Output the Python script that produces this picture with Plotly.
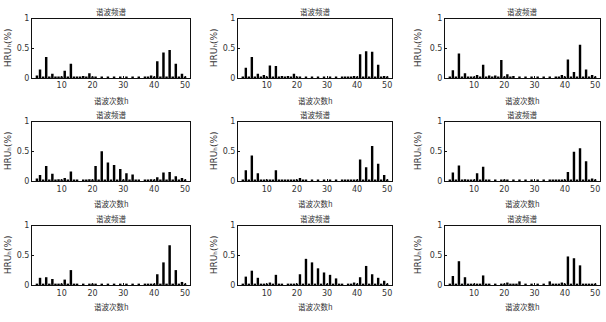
import plotly.graph_objects as go

harmonics = list(range(1, 51))
x_ticks = [10, 20, 30, 40, 50]
y_ticks = [0, 0.5, 1]
y_tick_text = ["0", "0.5", "1"]
title_text = "谐波频谱"
x_label = "谐波次数h"
y_label = "HRUₕ(%)"

p1 = [0, 0.04, 0.14, 0.02, 0.35, 0.01, 0.07, 0.01, 0.01, 0.01,
      0.12, 0.01, 0.24, 0.01, 0.01, 0.01, 0.03, 0.01, 0.08, 0.01,
      0.01, 0, 0.01, 0, 0.01, 0, 0.01, 0, 0.01, 0,
      0.01, 0, 0.01, 0, 0.01, 0, 0.01, 0.01, 0.04, 0.01,
      0.28, 0.01, 0.43, 0.01, 0.47, 0.01, 0.24, 0.01, 0.07, 0.01]
p2 = [0, 0.01, 0.17, 0.01, 0.35, 0.01, 0.07, 0.01, 0.05, 0.01,
      0.21, 0.01, 0.20, 0.01, 0.03, 0.01, 0.03, 0.01, 0.07, 0.01,
      0.01, 0, 0.01, 0, 0.01, 0, 0.01, 0, 0.01, 0,
      0.01, 0, 0.01, 0, 0.02, 0.01, 0.02, 0.01, 0.03, 0.01,
      0.40, 0.01, 0.45, 0.01, 0.44, 0.01, 0.22, 0.01, 0.03, 0.01]
p3 = [0, 0.01, 0.13, 0.01, 0.41, 0.01, 0.08, 0.01, 0.02, 0.01,
      0.05, 0.01, 0.22, 0.01, 0.04, 0.01, 0.04, 0.01, 0.30, 0.01,
      0.06, 0.01, 0.03, 0, 0.01, 0, 0.01, 0, 0.01, 0,
      0.01, 0, 0.01, 0, 0.01, 0, 0.01, 0.01, 0.05, 0.01,
      0.31, 0.01, 0.10, 0.01, 0.56, 0.01, 0.14, 0.01, 0.05, 0.01]
p4 = [0, 0.04, 0.10, 0.01, 0.25, 0.01, 0.12, 0.01, 0.03, 0.01,
      0.05, 0.01, 0.16, 0.01, 0.01, 0, 0.01, 0.01, 0.03, 0.01,
      0.25, 0.01, 0.50, 0.01, 0.31, 0.01, 0.27, 0.01, 0.20, 0.01,
      0.13, 0.01, 0.11, 0.01, 0.02, 0, 0.02, 0.01, 0.03, 0.01,
      0.06, 0.01, 0.14, 0.01, 0.15, 0.01, 0.08, 0.01, 0.05, 0.01]
p5 = [0, 0.01, 0.18, 0.01, 0.43, 0.01, 0.13, 0.01, 0.02, 0.01,
      0.02, 0.01, 0.18, 0.01, 0.02, 0.01, 0.02, 0.01, 0.02, 0.01,
      0.05, 0.01, 0.02, 0, 0.02, 0, 0.01, 0, 0.01, 0,
      0.01, 0, 0.01, 0, 0.02, 0.01, 0.02, 0.01, 0.02, 0.01,
      0.36, 0.01, 0.23, 0.01, 0.59, 0.01, 0.29, 0.01, 0.10, 0.01]
p6 = [0, 0.01, 0.14, 0.01, 0.26, 0.01, 0.03, 0.01, 0.01, 0.01,
      0.13, 0.01, 0.24, 0.01, 0.01, 0, 0.01, 0, 0.02, 0.01,
      0.01, 0, 0.01, 0, 0.01, 0, 0.01, 0, 0.01, 0,
      0.01, 0, 0.01, 0, 0.02, 0.01, 0.02, 0.01, 0.02, 0.01,
      0.15, 0.01, 0.49, 0.01, 0.55, 0.01, 0.33, 0.01, 0.04, 0.01]
p7 = [0, 0.02, 0.12, 0.01, 0.13, 0.01, 0.10, 0.01, 0.02, 0.01,
      0.09, 0.01, 0.25, 0.01, 0.01, 0, 0.02, 0, 0.02, 0.01,
      0.01, 0, 0.01, 0, 0.01, 0, 0.01, 0, 0.01, 0,
      0.01, 0, 0.01, 0, 0.01, 0, 0.02, 0.01, 0.02, 0.01,
      0.18, 0.01, 0.38, 0.01, 0.67, 0.01, 0.25, 0.01, 0.05, 0.01]
p8 = [0, 0.02, 0.14, 0.01, 0.24, 0.01, 0.12, 0.01, 0.02, 0.01,
      0.04, 0.01, 0.17, 0.01, 0.01, 0, 0.01, 0.01, 0.02, 0.01,
      0.18, 0.01, 0.44, 0.01, 0.38, 0.01, 0.28, 0.01, 0.21, 0.01,
      0.17, 0.01, 0.11, 0.01, 0.02, 0, 0.02, 0.01, 0.04, 0.01,
      0.13, 0.01, 0.32, 0.01, 0.18, 0.01, 0.12, 0.01, 0.07, 0.01]
p9 = [0, 0.01, 0.15, 0.01, 0.40, 0.01, 0.13, 0.01, 0.01, 0.01,
      0.02, 0.01, 0.16, 0.01, 0.01, 0, 0.01, 0, 0.01, 0.01,
      0.04, 0.01, 0.02, 0.01, 0.06, 0, 0.01, 0, 0.01, 0,
      0.01, 0, 0.01, 0, 0.06, 0.01, 0.02, 0.01, 0.04, 0.01,
      0.48, 0.01, 0.45, 0.01, 0.33, 0.01, 0.02, 0.01, 0.02, 0.01]
panels = [p1, p2, p3, p4, p5, p6, p7, p8, p9]

W, H = 606, 322
col_px = [(32, 190), (238, 392), (445, 600)]
row_px = [(15, 76), (121, 182), (228, 289)]
title_y_px = [8, 114, 221]
xlabel_y_px = [99, 205, 311]
ylabel_x_px = [8, 214, 418]

FONT = "DejaVu Sans"
CJK = "Noto Sans CJK SC"
fig = go.Figure()
layout = dict(width=W, height=H, margin=dict(l=0, r=0, t=0, b=0),
              paper_bgcolor="white", plot_bgcolor="white", showlegend=False,
              autosize=False, annotations=[])

for i, vals in enumerate(panels):
    r, c = divmod(i, 3)
    k = i + 1
    xa = "x" if k == 1 else f"x{k}"
    ya = "y" if k == 1 else f"y{k}"
    fig.add_trace(go.Bar(x=harmonics, y=vals, width=0.8,
                         marker=dict(color="black", line=dict(width=0)),
                         xaxis=xa, yaxis=ya))
    x0, x1 = col_px[c]
    y0, y1 = row_px[r]
    xd = [x0 / W, x1 / W]
    yd = [1 - y1 / H, 1 - y0 / H]
    axis_common = dict(showline=True, linecolor="#111", linewidth=1, mirror=True,
                       showgrid=False, zeroline=False, ticks="inside", ticklen=2,
                       tickcolor="#111", tickfont=dict(family=FONT, size=8, color="#333"))
    layout[f"xaxis{k}"] = dict(domain=xd, range=[0.4, 51.6], tickvals=x_ticks,
                               anchor=ya, **axis_common)
    layout[f"yaxis{k}"] = dict(domain=yd, range=[0, 1], tickvals=y_ticks,
                               ticktext=y_tick_text, anchor=xa, **axis_common)
    cx = (x0 + x1) / 2 / W
    layout["annotations"].append(dict(text=title_text, x=cx, y=1 - title_y_px[r] / H,
                                      xref="paper", yref="paper", showarrow=False,
                                      xanchor="center", yanchor="middle",
                                      font=dict(family=CJK, size=7.5, color="#333")))
    layout["annotations"].append(dict(text=x_label, x=cx, y=1 - xlabel_y_px[r] / H,
                                      xref="paper", yref="paper", showarrow=False,
                                      xanchor="center", yanchor="middle",
                                      font=dict(family=CJK, size=7.5, color="#333")))
    layout["annotations"].append(dict(text=y_label, x=ylabel_x_px[c] / W,
                                      y=1 - (y0 + y1) / 2 / H,
                                      xref="paper", yref="paper", showarrow=False,
                                      xanchor="center", yanchor="middle", textangle=-90,
                                      font=dict(family=FONT, size=9, color="#333")))

fig.update_layout(**layout)
fig.write_html("out.html")
